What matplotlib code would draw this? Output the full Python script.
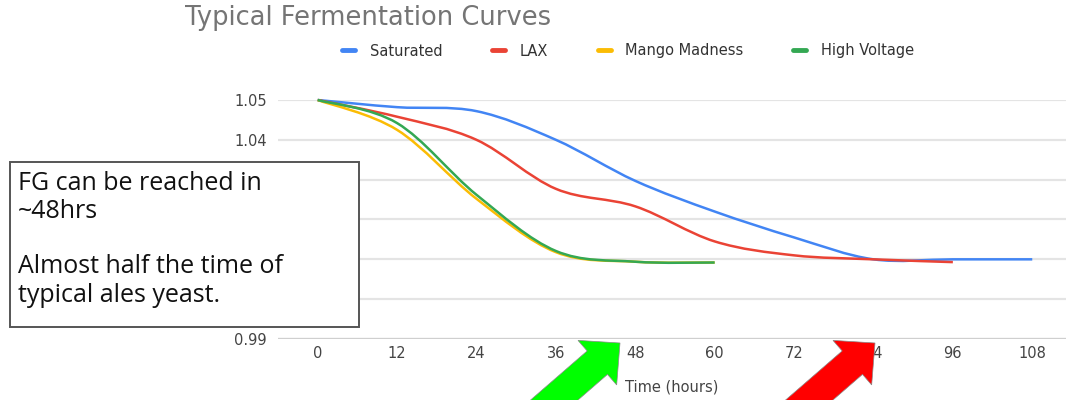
import numpy as np
import matplotlib
matplotlib.use("Agg")
import matplotlib.pyplot as plt
from matplotlib.path import Path
from matplotlib.patches import PathPatch, Rectangle, FancyArrow
from matplotlib.lines import Line2D
from matplotlib.transforms import Affine2D

# values (hours vs gravity)
hours = [0, 12, 24, 36, 48, 60, 72, 84, 96, 108]
saturated = [1.050, 1.0482, 1.0472, 1.0400, 1.0297, 1.0220, 1.0155, 1.0100, 1.0100, 1.0100]
lax = [1.050, 1.0458, 1.0400, 1.0277, 1.0233, 1.0145, 1.0110, 1.0100, 1.0093]
mango = [1.050, 1.0425, 1.0252, 1.0118, 1.0094, 1.0092]
high_voltage = [1.050, 1.0442, 1.0262, 1.0121, 1.0094, 1.0092]

series_names = ["Saturated", "LAX", "Mango Madness", "High Voltage"]
series_values = [saturated, lax, mango, high_voltage]
colors = ["#4285F4", "#EA4335", "#FBBC04", "#34A853"]

y_ticks = [0.99, 1.00, 1.01, 1.02, 1.03, 1.04, 1.05]
# the middle labels sit under the note box in the original
y_labels = ["0.99", "", "", "", "", "1.04", "1.05"]
x_ticks = [0, 12, 24, 36, 48, 60, 72, 84, 96, 108]

title = "Typical Fermentation Curves"
note_lines = ["FG can be reached in", "~48hrs", "Almost half the time of", "typical ales yeast."]


def smooth_path(xs, ys, t=1 / 6):
    # bezier path through the points, like the chart's smoothed lines
    pts = np.column_stack([xs, ys])
    verts = [pts[0]]
    codes = [Path.MOVETO]
    n = len(pts)
    for i in range(n - 1):
        p0 = pts[i - 1] if i > 0 else pts[i]
        p1 = pts[i]
        p2 = pts[i + 1]
        p3 = pts[i + 2] if i + 2 < n else pts[i + 1]
        c1 = p1 + (p2 - p0) * t
        c2 = p2 - (p3 - p1) * t
        verts += [c1, c2, p2]
        codes += [Path.CURVE4] * 3
    return Path(verts, codes)


W, H, DPI = 1066, 400, 100
fig = plt.figure(figsize=(W / DPI, H / DPI), dpi=DPI)
ax = fig.add_axes([278 / W, 61 / H, (W - 278) / W, 239 / H])

for name, vals, col in zip(series_names, series_values, colors):
    path = smooth_path(hours[:len(vals)], vals)
    ax.add_patch(PathPatch(path, facecolor="none", edgecolor=col, lw=1.8,
                           clip_on=False, zorder=3))

ax.set_xlim(-6, 113.1)
ax.set_ylim(0.99, 1.05)
ax.set_xticks(x_ticks)
ax.set_yticks(y_ticks)
ax.set_yticklabels(y_labels)
ax.tick_params(length=0, labelsize=10.5, labelcolor="#444444", pad=8)
ax.tick_params(axis="x", pad=5)
for lab in ax.get_xticklabels() + ax.get_yticklabels():
    lab.set_family("DejaVu Sans")
ax.grid(axis="y", color="#e4e4e4", lw=1.6)
ax.grid(axis="x", visible=False)
for s in ax.spines.values():
    s.set_visible(False)
ax.axhline(0.99, color="#cfcfcf", lw=1.6, zorder=2)
ax.set_xlabel("Time (hours)", fontsize=10.5, color="#444444",
              family="DejaVu Sans", labelpad=13)

fig.text(185 / W, 1 - 18 / H, title, fontsize=18.5, color="#757575",
         family="DejaVu Sans", va="center", ha="left")

handles = [Line2D([], [], color=c, lw=3.5, solid_capstyle="round") for c in colors]
fig.legend(handles, series_names, loc="center", bbox_to_anchor=(628 / W, 1 - 51 / H),
           ncol=4, frameon=False, handlelength=0.9, handletextpad=1.0,
           columnspacing=3.4, prop={"family": "DejaVu Sans", "size": 10.5},
           labelcolor="#333333")

# text box over the left of the chart
px = Affine2D().scale(1 / DPI) + fig.dpi_scale_trans
fig.add_artist(Rectangle((10, H - 327), 349, 165, transform=px, facecolor="white",
                         edgecolor="#555555", lw=1.4, zorder=5))
for line, base_y in zip(note_lines, [190, 218, 273, 302]):
    fig.text(18 / W, 1 - base_y / H, line, fontsize=18, color="#111111",
             family="Open Sans", va="baseline", ha="left", zorder=6)

# block arrows
for tip_x in (620, 875):
    tip_y = H - 343
    fig.add_artist(FancyArrow(tip_x - 83, tip_y - 72, 83, 72, width=31,
                              head_width=59, head_length=30,
                              length_includes_head=True, transform=px,
                              facecolor="#00FF00" if tip_x < 700 else "#FF0000",
                              edgecolor="#888888", lw=0.5, zorder=7))

fig.savefig("out.png", dpi=DPI)
